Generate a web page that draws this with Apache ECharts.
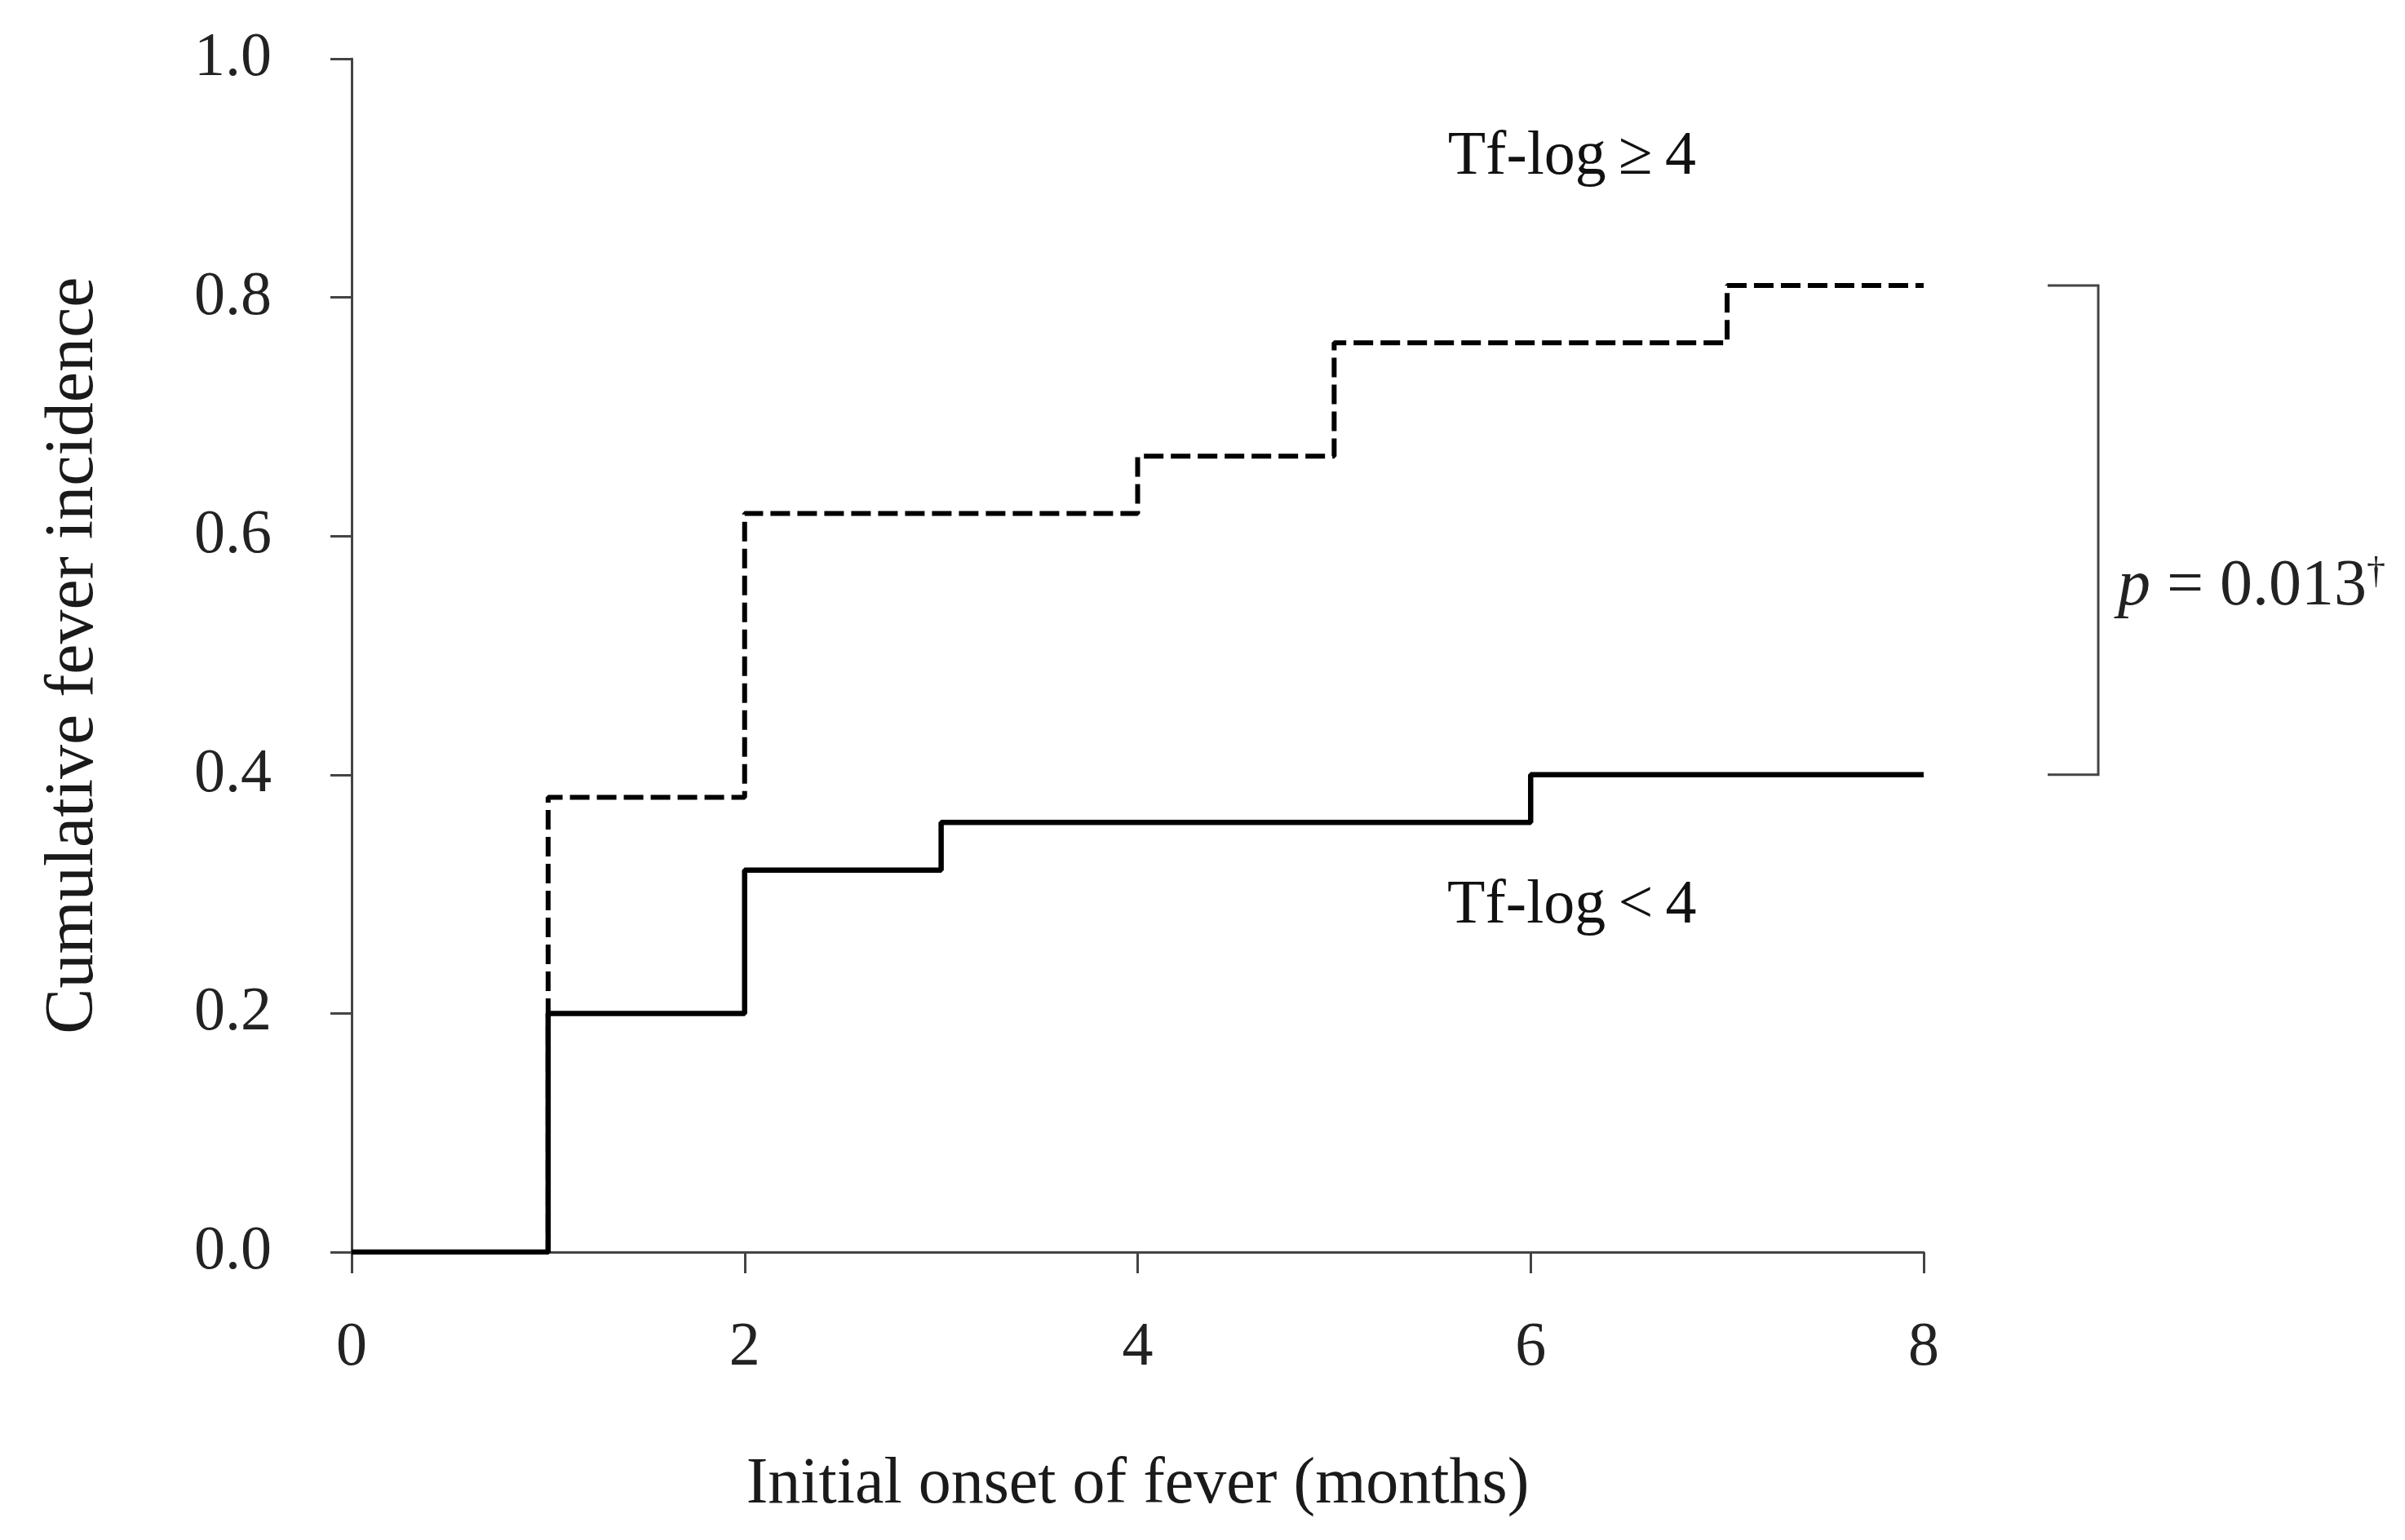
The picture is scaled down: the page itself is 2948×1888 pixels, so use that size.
<!DOCTYPE html>
<html>
<head>
<meta charset="utf-8">
<script src="https://cdn.jsdelivr.net/npm/echarts@6/dist/echarts.min.js"></script>
<style>
html,body{margin:0;padding:0;background:#fff;}
#c{width:2948px;height:1888px;}
</style>
</head>
<body>
<div id="c"></div>
<script>
// Data
const highTimes = [0, 1, 2, 4, 5, 7, 8];
const highIncidence = [0, 0.381, 0.619, 0.667, 0.762, 0.810, 0.810];
const lowTimes = [0, 1, 2, 3, 6, 8];
const lowIncidence = [0, 0.20, 0.32, 0.36, 0.40, 0.40];
const highLabel = 'Tf-log\u2009\u2265\u20094';
const lowLabel = 'Tf-log\u2009<\u20094';
const pValue = '0.013';
const xTitle = 'Initial onset of fever (months)';
const yTitle = 'Cumulative fever incidence';

const FONT = '"Liberation Serif", "DejaVu Serif", serif';
const chart = echarts.init(document.getElementById('c'), null, {renderer: 'canvas'});

const highData = highTimes.map((t, i) => [t, highIncidence[i]]);
const lowData = lowTimes.map((t, i) => [t, lowIncidence[i]]);

const axisCommon = {
  axisLine: {show: true, lineStyle: {color: '#444', width: 3}},
  axisTick: {show: true, length: 26, lineStyle: {color: '#444', width: 3}},
  splitLine: {show: false}
};

chart.setOption({
  animation: false,
  backgroundColor: '#fff',
  grid: {left: 431, right: 590, top: 72, bottom: 353, containLabel: false},
  xAxis: Object.assign({}, axisCommon, {
    type: 'value', min: 0, max: 8, interval: 2,
    name: xTitle, nameLocation: 'middle', nameGap: 246,
    nameTextStyle: {fontFamily: FONT, fontSize: 80, color: '#1a1a1a'},
    axisLabel: {margin: 80, fontFamily: FONT, fontSize: 76, color: '#222'}
  }),
  yAxis: Object.assign({}, axisCommon, {
    type: 'value', min: 0, max: 1, interval: 0.2,
    name: yTitle, nameLocation: 'middle', nameGap: 298,
    nameTextStyle: {fontFamily: FONT, fontSize: 84, color: '#1a1a1a'},
    axisLabel: {margin: 98, fontFamily: FONT, fontSize: 76, color: '#222',
      formatter: v => v.toFixed(1)}
  }),
  series: [
    {
      name: highLabel, type: 'line', step: 'end', data: highData,
      symbol: 'none', z: 3,
      lineStyle: {color: '#000', width: 6, type: [24, 9]}
    },
    {
      name: lowLabel, type: 'line', step: 'end', data: lowData,
      symbol: 'none', z: 4,
      lineStyle: {color: '#000', width: 6.5, type: 'solid'}
    }
  ]
});

function px(pt) { return chart.convertToPixel({gridIndex: 0}, pt); }

const right = px([8, 0])[0];
const topB = px([8, highIncidence[highIncidence.length - 1]])[1];
const botB = px([8, lowIncidence[lowIncidence.length - 1]])[1];
const bx0 = right + 152, bx1 = right + 214;
const hiPos = px([6.21, 0.917]);
const loPos = px([6.21, 0.29]);
const pPos = px([8, 0.557]);

chart.setOption({
  graphic: [
    {type: 'polyline', shape: {points: [[bx0, topB], [bx1, topB], [bx1, botB], [bx0, botB]]},
     style: {stroke: '#444', lineWidth: 3, fill: null}},
    {type: 'text', x: hiPos[0], y: hiPos[1],
     style: {text: highLabel, fontFamily: FONT, fontSize: 76, fill: '#111', align: 'center', verticalAlign: 'middle'}},
    {type: 'text', x: loPos[0], y: loPos[1],
     style: {text: lowLabel, fontFamily: FONT, fontSize: 76, fill: '#111', align: 'center', verticalAlign: 'middle'}},
    {type: 'text', x: right + 238, y: pPos[1],
     style: {
       text: '{i|p} = ' + pValue + '{s|\u2020}',
       fontFamily: FONT, fontSize: 80, fill: '#222', align: 'left', verticalAlign: 'middle',
       rich: {
         i: {fontFamily: FONT, fontSize: 80, fontStyle: 'italic', fill: '#222'},
         s: {fontFamily: FONT, fontSize: 46, fill: '#222', verticalAlign: 'top', padding: [0, 0, 32, 0]}
       }
     }}
  ]
});
</script>
</body>
</html>
